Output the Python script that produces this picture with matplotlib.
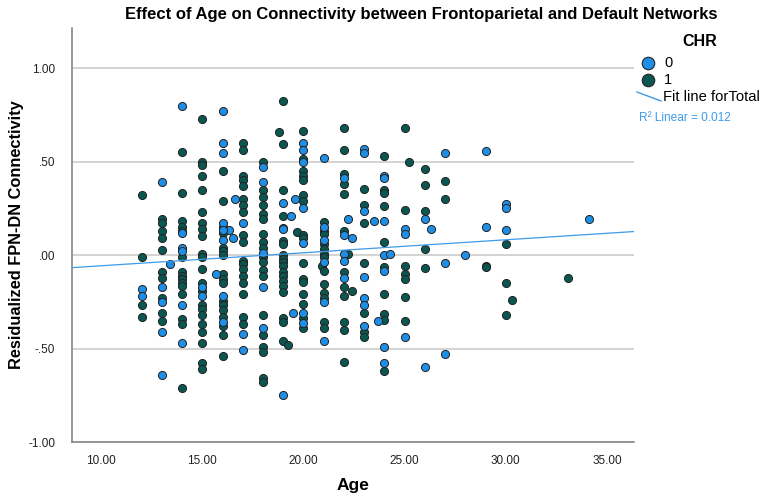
import numpy as np
import matplotlib
matplotlib.use("Agg")
import matplotlib.pyplot as plt
from matplotlib.lines import Line2D

plt.rcParams['font.family'] = ['Liberation Sans', 'DejaVu Sans']

# ---- data: CHR = 0 (blue) ----
age0 = ([12]*2 + [13]*5 + [13.4] + [14]*6 + [15]*2 + [15.7, 16.3, 16.5, 16.6] + [16]*8 +
        [17]*3 + [18]*5 + [19]*4 + [19.4, 19.5, 19.6] + [20]*7 + [21]*6 + [22]*5 +
        [22.2, 22.4] + [23]*7 + [23.5, 23.7] + [24]*7 + [24.3] + [25]*3 + [26]*2 +
        [26.3] + [27]*3 + [28] + [29]*2 + [30]*3 + [34.1])
val0 = ([-0.18, -0.22] +
        [0.39, -0.17, -0.25, -0.41, -0.64] + [-0.05] +
        [0.795, 0.12, 0.04, 0.02, -0.27, -0.47] +
        [-0.17, -0.22] + [-0.10, 0.135, 0.09, 0.30] +
        [0.77, 0.60, 0.545, 0.17, 0.135, 0.08, -0.22, -0.36] +
        [0.17, -0.42, -0.51] +
        [0.47, 0.39, 0.01, -0.17, -0.39] +
        [0.28, 0.145, 0.14, -0.75] + [0.21, -0.31, 0.30] +
        [0.60, 0.56, 0.50, 0.25, 0.065, -0.31, -0.365] +
        [0.52, 0.15, 0.08, -0.035, -0.25, -0.46] +
        [0.41, 0.105, 0.005, -0.03, -0.125] + [0.195, 0.09] +
        [0.565, 0.545, 0.235, -0.115, -0.23, -0.27, -0.38] + [0.18, -0.355] +
        [0.42, 0.41, 0.18, 0.0, -0.085, -0.49, -0.575] + [0.005] +
        [0.14, 0.11, -0.44] + [0.195, -0.60] + [0.14] +
        [0.545, -0.045, -0.53] + [0.0] + [0.555, 0.15] +
        [0.275, 0.25, 0.135] + [0.19])

# ---- data: CHR = 1 (teal) ----
ages1_groups = [12, 13, 14, 15, 16, 17, 18, 18.8, 19, 19.25, 19.7, 20, 20.9, 21, 22,
                22.2, 22.4, 23, 24, 25, 25.2, 26, 27, 29, 30, 30.3, 33.1]
vals1_groups = [
    [0.32, -0.01, -0.27, -0.33],
    [0.19, 0.17, 0.13, 0.09, 0.025, -0.09, -0.125, -0.23, -0.31, -0.355],
    [0.55, 0.33, 0.18, 0.15, 0.13, -0.01, -0.09, -0.11, -0.13, -0.15, -0.165, -0.21, -0.34, -0.37, -0.71],
    [0.73, 0.50, 0.48, 0.42, 0.35, 0.23, 0.17, 0.14, 0.10, 0.005, -0.01, -0.075, -0.15, -0.19,
     -0.27, -0.29, -0.32, -0.37, -0.41, -0.47, -0.58, -0.61],
    [0.45, 0.29, 0.15, 0.12, 0.04, 0.02, 0.0, -0.10, -0.13, -0.15, -0.245, -0.27, -0.295, -0.33,
     -0.38, -0.43, -0.54],
    [0.60, 0.56, 0.42, 0.40, 0.37, 0.30, 0.27, 0.23, 0.105, 0.07, -0.03, -0.05, -0.075, -0.11,
     -0.15, -0.21, -0.33, -0.37],
    [0.50, 0.35, 0.31, 0.27, 0.22, 0.195, 0.11, 0.07, 0.04, -0.01, -0.04, -0.08, -0.11, -0.32,
     -0.43, -0.49, -0.52, -0.66, -0.68],
    [0.66],
    [0.825, 0.595, 0.345, 0.21, 0.075, 0.06, 0.0, -0.02, -0.04, -0.06, -0.09, -0.11, -0.14,
     -0.165, -0.20, -0.335, -0.36, -0.46],
    [-0.48],
    [0.125],
    [0.665, 0.515, 0.45, 0.425, 0.40, 0.32, 0.29, 0.105, 0.09, -0.045, -0.13, -0.145, -0.21,
     -0.26, -0.335, -0.39],
    [-0.06],
    [0.175, 0.13, 0.11, 0.06, 0.03, 0.005, -0.01, -0.085, -0.155, -0.205, -0.23, -0.36, -0.39],
    [0.68, 0.56, 0.435, 0.38, 0.325, 0.13, -0.09, -0.17, -0.22, -0.36, -0.40, -0.57],
    [0.005],
    [-0.19],
    [0.355, 0.265, 0.17, -0.045, -0.31, -0.41, -0.44],
    [0.53, 0.345, 0.33, 0.26, 0.07, -0.065, -0.21, -0.315, -0.35, -0.62],
    [0.68, 0.24, -0.06, -0.10, -0.13, -0.225, -0.355],
    [0.50],
    [0.46, 0.375, 0.235, 0.03, -0.07],
    [0.395, 0.30],
    [-0.06, -0.065],
    [0.06, -0.15, -0.32],
    [-0.24],
    [-0.125],
]
age1 = [a for a, vs in zip(ages1_groups, vals1_groups) for _ in vs]
val1 = [v for vs in vals1_groups for v in vs]

x_ticks = [10, 15, 20, 25, 30, 35]
x_tick_labels = ["10.00", "15.00", "20.00", "25.00", "30.00", "35.00"]
y_ticks = [-1.0, -0.5, 0.0, 0.5, 1.0]
y_tick_labels = ["-1.00", "-.50", ".00", ".50", "1.00"]

BLUE = "#1e8fe6"
TEAL = "#0a5752"
FIT = "#3d9be9"

W, H = 764, 494
fig = plt.figure(figsize=(W/100, H/100), dpi=100)
ax = fig.add_axes([72/W, 1-442/H, (634-72)/W, (442-28)/H])

ax.set_xlim(8.56, 36.34)
ax.set_ylim(-1.0, 1.214)

ax.set_yticks(y_ticks)
ax.set_yticklabels(y_tick_labels, fontsize=8.5)
ax.set_xticks(x_ticks)
ax.set_xticklabels(x_tick_labels, fontsize=8.5)
ax.tick_params(axis='y', length=0, pad=12, colors="#222222")
ax.tick_params(axis='x', length=0, pad=9, colors="#222222")
ax.grid(axis='y', color="#cccccc", linewidth=1.2)
ax.set_axisbelow(True)
for s in ['top', 'right']:
    ax.spines[s].set_visible(False)
for s in ['left', 'bottom']:
    ax.spines[s].set_color("#888888")
    ax.spines[s].set_linewidth(1.2)

ax.scatter(age1, val1, s=34, c=TEAL, edgecolors="#222222", linewidths=0.7, zorder=3)
ax.scatter(age0, val0, s=34, c=BLUE, edgecolors="#222222", linewidths=0.7, zorder=3)

all_x = np.array(list(age0) + list(age1), dtype=float)
all_y = np.array(list(val0) + list(val1), dtype=float)
slope, intercept = np.polyfit(all_x, all_y, 1)
xs = np.array(ax.get_xlim())
ax.plot(xs, intercept + slope*xs, color=FIT, linewidth=0.9, zorder=4)

ax.set_xlabel("Age", fontsize=12.5, fontweight='bold', labelpad=8)
ax.set_ylabel("Residualized FPN-DN Connectivity", fontsize=11.8, fontweight='bold', labelpad=3)

fig.text(421/W, 1-14/H, "Effect of Age on Connectivity between Frontoparietal and Default Networks",
         ha='center', va='center', fontsize=12, fontweight='bold')

# legend
fig.text(700/W, 1-41/H, "CHR", ha='center', va='center', fontsize=11.5, fontweight='bold')
fig.add_artist(Line2D([648/W], [1-63/H], marker='o', markersize=9, color=BLUE,
                      markeredgecolor="#222222", markeredgewidth=0.8, linestyle='none'))
fig.add_artist(Line2D([648/W], [1-80/H], marker='o', markersize=9, color=TEAL,
                      markeredgecolor="#222222", markeredgewidth=0.8, linestyle='none'))
fig.text(664/W, 1-63/H, "0", ha='left', va='center', fontsize=10.5)
fig.text(664/W, 1-80/H, "1", ha='left', va='center', fontsize=10.5)
fig.add_artist(Line2D([637/W, 661/W], [1-92/H, 1-101/H], color=FIT, linewidth=1.0))
fig.text(663/W, 1-97/H, "Fit line forTotal", ha='left', va='center', fontsize=10.6)
fig.text(639/W, 1-118/H, "R² Linear = 0.012", ha='left', va='center', fontsize=8.6, color=FIT)

fig.savefig("out.png", dpi=100)
